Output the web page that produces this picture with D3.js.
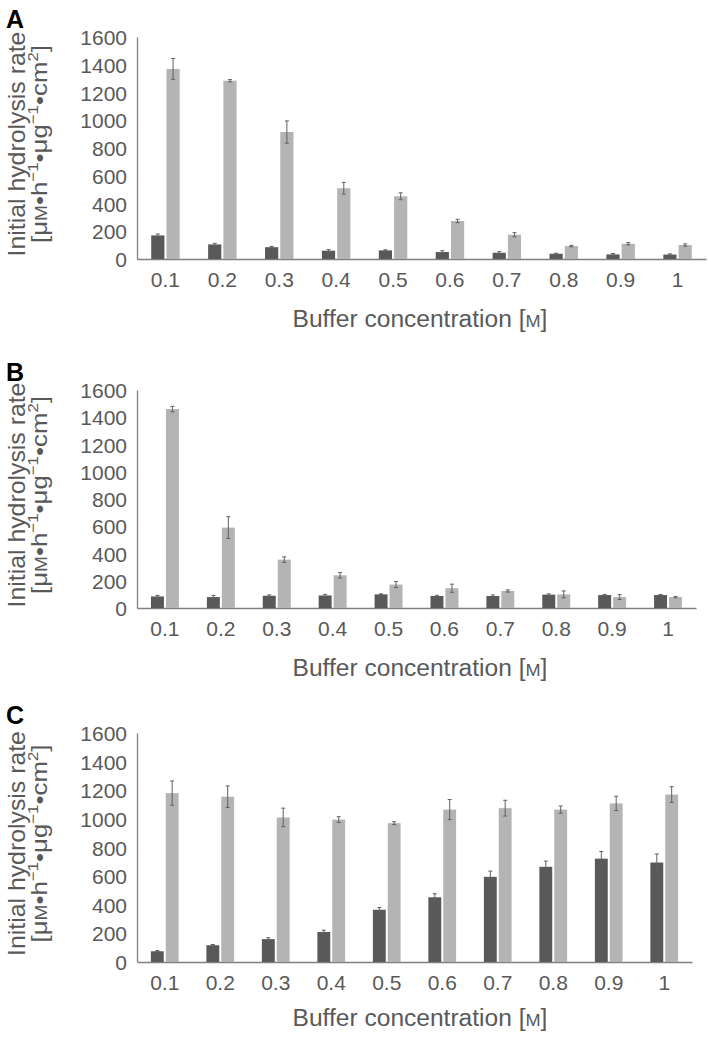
<!DOCTYPE html>
<html><head><meta charset="utf-8">
<script src="https://cdn.jsdelivr.net/npm/d3@7"></script>
<style>
html,body{margin:0;padding:0;background:#fff;}
svg{display:block;font-family:"Liberation Sans",Arial,sans-serif;}
</style></head>
<body><svg id="chart" width="709" height="1038"></svg>
<script>
const categories = ["0.1","0.2","0.3","0.4","0.5","0.6","0.7","0.8","0.9","1"];
const yTicks = [0,200,400,600,800,1000,1200,1400,1600];

const aDark = [170,105,85,60,62,50,45,38,33,32];
const aDarkErr = [10,8,6,8,4,10,8,4,6,5];
const aLight = [1370,1285,915,510,452,274,175,93,110,101];
const aLightErr = [75,8,80,42,25,12,15,5,8,8];

const bDark = [85,80,90,92,100,88,88,98,95,95];
const bDarkErr = [8,12,6,8,4,5,8,6,5,4];
const bLight = [1460,590,355,240,172,145,125,100,80,80];
const bLightErr = [20,80,20,20,22,30,8,25,18,5];

const cDark = [75,117,160,210,365,452,595,665,722,695];
const cDarkErr = [5,5,10,12,15,25,40,40,50,60];
const cLight = [1180,1155,1010,995,970,1065,1075,1065,1108,1170];
const cLightErr = [85,75,65,20,10,70,55,25,50,55];

const panelLabels = ["A","B","C"];
const xTitle = "Buffer concentration";

const panels = [
  {dark:aDark, darkErr:aDarkErr, light:aLight, lightErr:aLightErr, x0:137, x1:706, y0:259, y1:37},
  {dark:bDark, darkErr:bDarkErr, light:bLight, lightErr:bLightErr, x0:137, x1:696, y0:608, y1:390},
  {dark:cDark, darkErr:cDarkErr, light:cLight, lightErr:cLightErr, x0:137, x1:692, y0:962, y1:733}
];

const svg = d3.select("#chart");
const textCol = "#595959";
const darkCol = "#595959";
const lightCol = "#b4b4b4";
const errCol = "#606060";
const axisCol = "#808080";

panels.forEach((p, pi) => {
  const g = svg.append("g");
  const x = d3.scaleBand().domain(categories).range([p.x0, p.x1]).paddingInner(0).paddingOuter(0);
  const y = d3.scaleLinear().domain([0,1600]).range([p.y0, p.y1]);
  const bw = x.bandwidth() * 0.232;
  const gap = x.bandwidth() * 0.018;

  const yAxis = d3.axisLeft(y).tickValues(yTicks).tickSize(0).tickPadding(10).tickFormat(d3.format("d"));
  const ya = g.append("g").attr("transform", `translate(${p.x0},0)`).call(yAxis);
  ya.select(".domain").attr("stroke", axisCol).attr("stroke-width", 1.3);
  ya.selectAll("text").attr("fill", textCol).style("font-size", "21px").attr("dy", "0.36em");

  const xAxis = d3.axisBottom(x).tickSize(0).tickPadding(0);
  const xa = g.append("g").attr("transform", `translate(0,${p.y0})`).call(xAxis);
  xa.select(".domain").attr("stroke", axisCol).attr("stroke-width", 1.3);
  xa.selectAll("text").attr("fill", textCol).style("font-size", "21px").attr("y", 28).attr("dy", 0);

  const cx = d => x(d) + x.bandwidth()/2;

  g.selectAll(".dark").data(categories).join("rect")
    .attr("x", d => cx(d) - gap - bw).attr("width", bw)
    .attr("y", (d,i) => y(p.dark[i])).attr("height", (d,i) => y(0) - y(p.dark[i]))
    .attr("fill", darkCol);
  g.selectAll(".light").data(categories).join("rect")
    .attr("x", d => cx(d) + gap).attr("width", bw)
    .attr("y", (d,i) => y(p.light[i])).attr("height", (d,i) => y(0) - y(p.light[i]))
    .attr("fill", lightCol);

  const drawErr = (vals, errs, offset) => {
    categories.forEach((c, i) => {
      const xc = cx(c) + offset;
      const top = y(vals[i] + errs[i]), bot = y(Math.max(0, vals[i] - errs[i]));
      g.append("line").attr("x1", xc).attr("x2", xc).attr("y1", top).attr("y2", bot)
        .attr("stroke", errCol).attr("stroke-width", 1);
      [top, bot].forEach(yy => g.append("line").attr("x1", xc-2).attr("x2", xc+2).attr("y1", yy).attr("y2", yy)
        .attr("stroke", errCol).attr("stroke-width", 1));
    });
  };
  drawErr(p.dark, p.darkErr, -gap - bw/2);
  drawErr(p.light, p.lightErr, gap + bw/2);

  g.append("text").attr("x", 6).attr("y", p.y1 - 9).text(panelLabels[pi])
    .attr("font-weight", "bold").style("font-size", "25px").attr("fill", "#000");

  const xt = g.append("text").attr("text-anchor", "middle").attr("fill", textCol).style("font-size", "23px");
  xt.append("tspan").text(xTitle + " [");
  xt.append("tspan").text("M").style("font-size", "17px");
  xt.append("tspan").text("]");
  const xs = 255 / xt.node().getBBox().width;
  const xby = p.y0 + (pi === 2 ? 64 : 68);
  xt.attr("transform", `translate(420,${xby}) scale(${xs},1)`);

  const ymid = (p.y0 + p.y1) / 2 - 4;
  const yt1 = g.append("text").attr("text-anchor", "middle").attr("fill", textCol).style("font-size", "23px")
    .text("Initial hydrolysis rate");
  const s1 = 225 / yt1.node().getBBox().width;
  yt1.attr("transform", `translate(25,${ymid}) rotate(-90) scale(${s1},1)`);

  const yt2 = g.append("text").attr("text-anchor", "middle").attr("fill", textCol).style("font-size", "23px");
  yt2.append("tspan").text("[μ");
  yt2.append("tspan").text("M").style("font-size", "17px");
  yt2.append("tspan").text("•h");
  yt2.append("tspan").text("−1").style("font-size", "15px").attr("dy", -9);
  yt2.append("tspan").text("•μg").attr("dy", 9);
  yt2.append("tspan").text("−1").style("font-size", "15px").attr("dy", -9);
  yt2.append("tspan").text("•cm").attr("dy", 9);
  yt2.append("tspan").text("2").style("font-size", "15px").attr("dy", -9);
  yt2.append("tspan").text("]").attr("dy", 9);
  const s2 = 198 / yt2.node().getBBox().width;
  yt2.attr("transform", `translate(47,${ymid}) rotate(-90) scale(${s2},1)`);
});
</script>
</body></html>
